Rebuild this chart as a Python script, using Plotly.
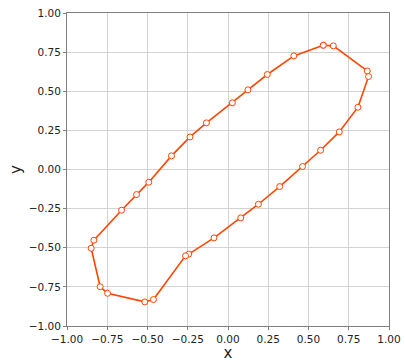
import plotly.graph_objects as go

x_vals = [0.592, 0.654, 0.865, 0.873, 0.807, 0.691, 0.575, 0.463, 0.321, 0.189,
          0.079, -0.087, -0.244, -0.264, -0.463, -0.517, -0.748, -0.794, -0.850, -0.833,
          -0.661, -0.568, -0.492, -0.351, -0.236, -0.134, 0.027, 0.124, 0.244, 0.409, 0.592]
y_vals = [0.794, 0.790, 0.630, 0.594, 0.398, 0.240, 0.123, 0.019, -0.109, -0.222,
          -0.309, -0.437, -0.541, -0.552, -0.831, -0.846, -0.791, -0.749, -0.503, -0.452,
          -0.260, -0.160, -0.081, 0.087, 0.208, 0.298, 0.426, 0.509, 0.607, 0.726, 0.794]
tick_vals = [-1.0, -0.75, -0.5, -0.25, 0.0, 0.25, 0.5, 0.75, 1.0]

fig = go.Figure()
fig.add_trace(go.Scatter(
    x=x_vals, y=y_vals, mode="lines+markers",
    line=dict(color="#ff4500", width=1.6),
    marker=dict(size=6, color="white", line=dict(color="#ff4500", width=1)),
    showlegend=False,
))

axis_common = dict(
    range=[-1, 1], tickvals=tick_vals, tickformat=".2f",
    showgrid=True, gridcolor="#d3d3d3", gridwidth=1,
    zeroline=False, showline=True, linecolor="#808080", linewidth=1, mirror=True,
    ticks="outside", ticklen=3, tickcolor="#808080", automargin=False,
    tickfont=dict(family="DejaVu Sans", size=10.5, color="#222222"),
)
fig.update_xaxes(**axis_common, title=dict(text="x", font=dict(family="DejaVu Sans", size=15, color="#222222"), standoff=4))
fig.update_yaxes(**axis_common, title=dict(text="y", font=dict(family="DejaVu Sans", size=15, color="#222222"), standoff=3))

fig.update_layout(
    width=405, height=362,
    margin=dict(l=67, r=16, t=13, b=36, autoexpand=False),
    paper_bgcolor="white", plot_bgcolor="white",
)
fig.write_html("out.html")
